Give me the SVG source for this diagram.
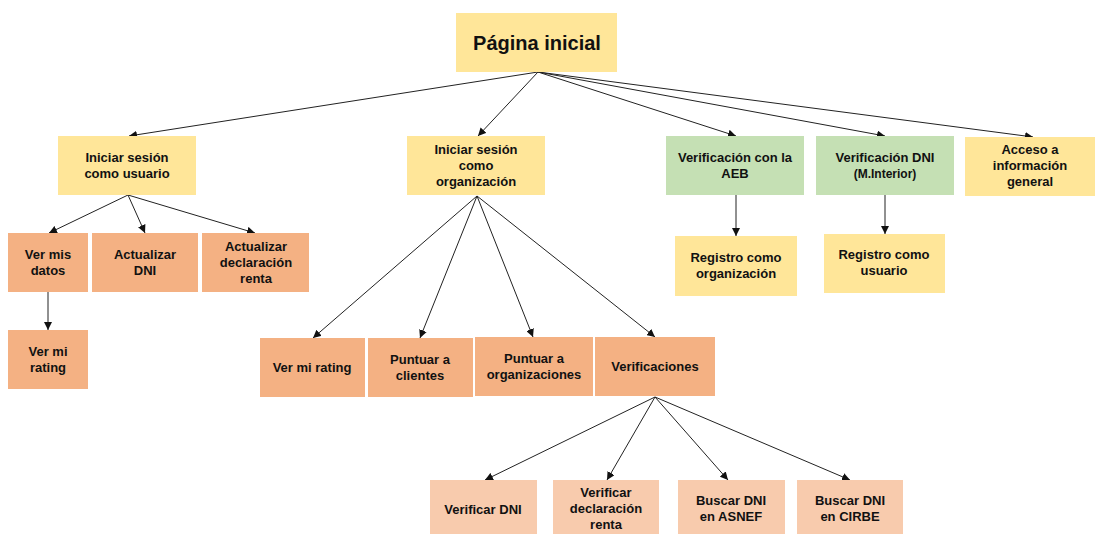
<svg xmlns="http://www.w3.org/2000/svg" width="1095" height="534" viewBox="0 0 1095 534">
  <defs>
    <marker id="arrow" viewBox="0 0 10 10" refX="10" refY="5" markerWidth="8" markerHeight="8" markerUnits="userSpaceOnUse" orient="auto">
      <path d="M0,0 L10,5 L0,10 z" fill="#111"/>
    </marker>
    <style>
      .yellow { fill: #FFE699; }
      .green { fill: #C5E0B4; }
      .orange { fill: #F4B183; }
      .light { fill: #F8CBAD; }
      text { font-family: "Liberation Sans", Arial, sans-serif; font-weight: bold; font-size: 13px; fill: #111; text-anchor: middle; }
      .title { font-size: 20px; }
      .edges line { stroke: #222; stroke-width: 1; marker-end: url(#arrow); }
    </style>
  </defs>
  <rect width="1095" height="534" fill="#fff"/>

  <g class="edges">
    <line x1="538" y1="72" x2="129" y2="136"/>
    <line x1="538" y1="72" x2="478" y2="136"/>
    <line x1="538" y1="72" x2="736" y2="136"/>
    <line x1="538" y1="72" x2="885" y2="136"/>
    <line x1="538" y1="72" x2="1033" y2="137"/>
    <line x1="128" y1="195" x2="49" y2="233"/>
    <line x1="128" y1="195" x2="145" y2="233"/>
    <line x1="128" y1="195" x2="255" y2="233"/>
    <line x1="48" y1="292" x2="48" y2="330"/>
    <line x1="477" y1="196" x2="313" y2="338"/>
    <line x1="477" y1="196" x2="420" y2="338"/>
    <line x1="477" y1="196" x2="533" y2="337"/>
    <line x1="477" y1="196" x2="655" y2="337"/>
    <line x1="655" y1="397" x2="485" y2="480"/>
    <line x1="655" y1="397" x2="607" y2="480"/>
    <line x1="655" y1="397" x2="728" y2="480"/>
    <line x1="655" y1="397" x2="850" y2="480"/>
    <line x1="736" y1="195" x2="736" y2="236"/>
    <line x1="885" y1="195" x2="885" y2="234"/>
  </g>

  <g id="pagina-inicial">
    <rect class="yellow" x="456" y="13" width="161" height="59"/>
    <text class="title" x="537" y="50">Página inicial</text>
  </g>

  <g id="sesion-usuario">
    <rect class="yellow" x="58" y="136" width="138" height="59"/>
    <text x="127" y="162">Iniciar sesión</text>
    <text x="127" y="178">como usuario</text>
  </g>

  <g id="ver-mis-datos">
    <rect class="orange" x="8" y="233" width="80" height="59"/>
    <text x="48" y="259">Ver mis</text>
    <text x="48" y="275">datos</text>
  </g>

  <g id="actualizar-dni">
    <rect class="orange" x="92" y="233" width="106" height="59"/>
    <text x="145" y="259">Actualizar</text>
    <text x="145" y="275">DNI</text>
  </g>

  <g id="actualizar-declaracion">
    <rect class="orange" x="202" y="233" width="107" height="59"/>
    <text x="256" y="251">Actualizar</text>
    <text x="256" y="267">declaración</text>
    <text x="256" y="283">renta</text>
  </g>

  <g id="ver-mi-rating-usuario">
    <rect class="orange" x="8" y="330" width="80" height="59"/>
    <text x="48" y="356">Ver mi</text>
    <text x="48" y="372">rating</text>
  </g>

  <g id="sesion-organizacion">
    <rect class="yellow" x="407" y="136" width="138" height="59"/>
    <text x="476" y="154">Iniciar sesión</text>
    <text x="476" y="170">como</text>
    <text x="476" y="186">organización</text>
  </g>

  <g id="ver-mi-rating-org">
    <rect class="orange" x="260" y="338" width="105" height="59"/>
    <text x="312" y="372">Ver mi rating</text>
  </g>

  <g id="puntuar-clientes">
    <rect class="orange" x="368" y="338" width="105" height="59"/>
    <text x="420" y="364">Puntuar a</text>
    <text x="420" y="380">clientes</text>
  </g>

  <g id="puntuar-organizaciones">
    <rect class="orange" x="475" y="337" width="118" height="59"/>
    <text x="534" y="363">Puntuar a</text>
    <text x="534" y="379">organizaciones</text>
  </g>

  <g id="verificaciones">
    <rect class="orange" x="595" y="337" width="120" height="59"/>
    <text x="655" y="371">Verificaciones</text>
  </g>

  <g id="verificar-dni">
    <rect class="light" x="430" y="480" width="107" height="54"/>
    <text x="483" y="514">Verificar DNI</text>
  </g>

  <g id="verificar-declaracion">
    <rect class="light" x="553" y="480" width="106" height="54"/>
    <text x="606" y="497">Verificar</text>
    <text x="606" y="513">declaración</text>
    <text x="606" y="529">renta</text>
  </g>

  <g id="buscar-asnef">
    <rect class="light" x="678" y="480" width="107" height="54"/>
    <text x="731" y="505">Buscar DNI</text>
    <text x="731" y="521">en ASNEF</text>
  </g>

  <g id="buscar-cirbe">
    <rect class="light" x="797" y="480" width="106" height="54"/>
    <text x="850" y="505">Buscar DNI</text>
    <text x="850" y="521">en CIRBE</text>
  </g>

  <g id="verificacion-aeb">
    <rect class="green" x="666" y="136" width="138" height="59"/>
    <text x="735" y="162">Verificación con la</text>
    <text x="735" y="178">AEB</text>
  </g>

  <g id="verificacion-dni">
    <rect class="green" x="816" y="136" width="138" height="59"/>
    <text x="885" y="162">Verificación DNI</text>
    <text x="885" y="178" style="font-size:12px">(M.Interior)</text>
  </g>

  <g id="acceso-informacion">
    <rect class="yellow" x="965" y="137" width="130" height="59"/>
    <text x="1030" y="154">Acceso a</text>
    <text x="1030" y="170">información</text>
    <text x="1030" y="186">general</text>
  </g>

  <g id="registro-organizacion">
    <rect class="yellow" x="675" y="236" width="122" height="60"/>
    <text x="736" y="262">Registro como</text>
    <text x="736" y="278">organización</text>
  </g>

  <g id="registro-usuario">
    <rect class="yellow" x="824" y="234" width="121" height="59"/>
    <text x="884" y="259">Registro como</text>
    <text x="884" y="275">usuario</text>
  </g>
</svg>
